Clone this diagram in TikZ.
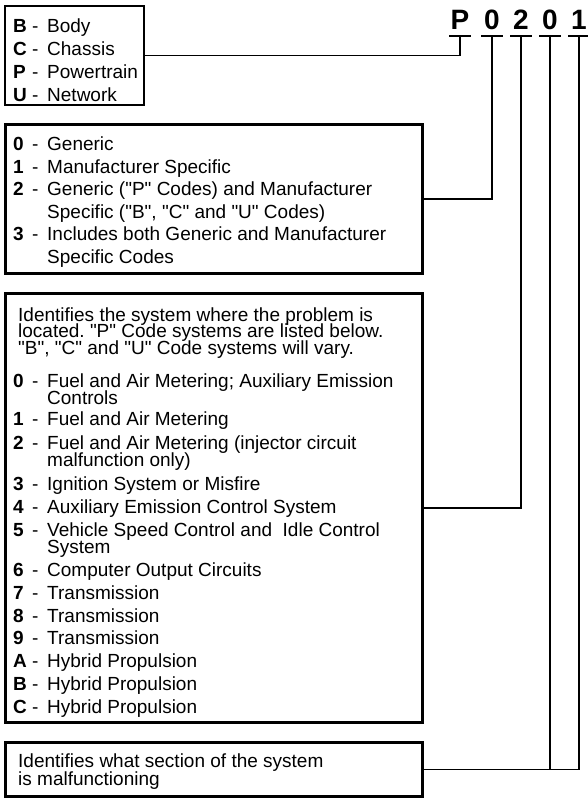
\documentclass[tikz,border=0pt]{standalone}
\usepackage{fontspec}
\setmainfont[Ligatures=TeXOff]{Liberation Sans}
\frenchspacing
\newcommand{\dtckey}[1]{\makebox[19pt][l]{\textbf{#1}}\makebox[15pt][l]{-}}
\newcommand{\dtcgap}{\hspace*{34pt}}
\tikzset{
  codebox/.style={draw,line width=2.6pt,inner sep=0pt},
  codetext/.style={anchor=base west,inner sep=0pt,font=\fontsize{19}{23}\selectfont},
  codedigit/.style={anchor=south,inner xsep=0pt,inner ysep=6pt,minimum width=21pt,text depth=0pt,font=\fontsize{28}{30}\selectfont\bfseries},
  codeline/.style={line width=1.2pt}
}
\begin{document}
\begin{tikzpicture}[x=1pt,y=-1pt]
\useasboundingbox (0,0) rectangle (587,802);
% the code letters
\node [codedigit] (codeSys)  at (460,36) {P};
\node [codedigit] (codeType) at (492,36) {0};
\node [codedigit] (codeSub)  at (521,36) {2};
\node [codedigit] (codeSecA) at (550,36) {0};
\node [codedigit] (codeSecB) at (579,36) {1};
% boxes
\node [codebox,minimum width=139pt,minimum height=99pt] (sysbox) at (74.5,55.5) {};
\node [codebox,minimum width=417pt,minimum height=149pt] (typebox) at (214,199) {};
\node [codebox,minimum width=417pt,minimum height=429pt] (subbox) at (214,508) {};
\node [codebox,minimum width=417pt,minimum height=54pt] (secbox) at (214,769.5) {};
% texts
\node [codetext] (systext) at (13,32.5) {\begin{tabular}[t]{@{}l@{}}
\dtckey{B}Body\\
\dtckey{C}Chassis\\
\dtckey{P}Powertrain\\
\dtckey{U}Network
\end{tabular}};
\node [codetext] (typetext) at (13,151) {\begin{tabular}[t]{@{}l@{}}
\dtckey{0}Generic\\[-0.5pt]
\dtckey{1}Manufacturer Specific\\[-0.5pt]
\dtckey{2}Generic ("P" Codes) and Manufacturer\\[-0.5pt]
\dtcgap Specific ("B", "C" and "U" Codes)\\[-0.5pt]
\dtckey{3}Includes both Generic and Manufacturer\\[-0.5pt]
\dtcgap Specific Codes
\end{tabular}};
\node [codetext] (subtext) at (13,321) {\begin{tabular}[t]{@{}l@{}}
\hspace*{5pt}Identifies the system where the problem is\\[-6.5pt]
\hspace*{5pt}located. "P" Code systems are listed below.\\[-6.5pt]
\hspace*{5pt}"B", "C" and "U" Code systems will vary.\\[10pt]
\dtckey{0}Fuel and Air Metering; Auxiliary Emission\\[-6pt]
\dtcgap Controls\\[-2pt]
\dtckey{1}Fuel and Air Metering\\[1pt]
\dtckey{2}Fuel and Air Metering (injector circuit\\[-6pt]
\dtcgap malfunction only)\\[1pt]
\dtckey{3}Ignition System or Misfire\\
\dtckey{4}Auxiliary Emission Control System\\
\dtckey{5}Vehicle Speed Control and\ \ Idle Control\\[-6pt]
\dtcgap System\\
\dtckey{6}Computer Output Circuits\\
\dtckey{7}Transmission\\
\dtckey{8}Transmission\\[-1pt]
\dtckey{9}Transmission\\
\dtckey{A}Hybrid Propulsion\\
\dtckey{B}Hybrid Propulsion\\
\dtckey{C}Hybrid Propulsion
\end{tabular}};
\node [codetext] (sectext) at (18,767.5) {\begin{tabular}[t]{@{}l@{}}
Identifies what section of the system\\[-5pt]
is malfunctioning
\end{tabular}};
% underlines and connectors
\draw [codeline] (codeSys.south west) -- (codeSys.south east);
\draw [codeline] (codeType.south west) -- (codeType.south east);
\draw [codeline] (codeSub.south west) -- (codeSub.south east);
\draw [codeline] (codeSecA.south west) -- (codeSecA.south east);
\draw [codeline] (codeSecB.south west) -- (codeSecB.south east);
\draw [codeline] (codeSys.south) |- (sysbox.east);
\draw [codeline] (codeType.south) |- (typebox.east);
\draw [codeline] (codeSub.south) |- (subbox.east);
\draw [codeline] (codeSecA.south) |- (secbox.east);
\draw [codeline] (codeSecB.south) |- (secbox.east);
\end{tikzpicture}
\end{document}
